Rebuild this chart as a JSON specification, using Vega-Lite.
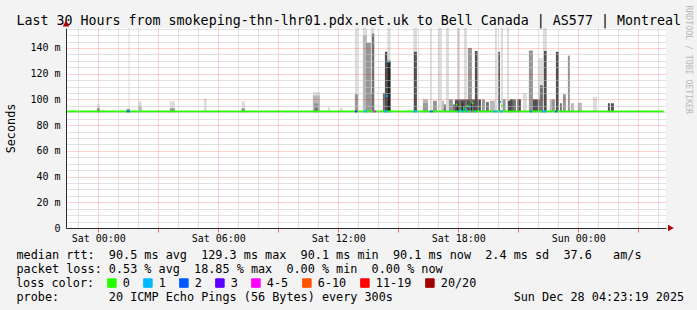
{
  "$schema": "https://vega.github.io/schema/vega-lite/v6.json",
  "width": 600,
  "height": 200,
  "autosize": {"type": "none"},
  "padding": {"left": 66, "top": 28, "right": 31, "bottom": 82},
  "background": "#f3f3f3",
  "view": {"fill": "#ffffff", "stroke": null},
  "config": {
    "font": "DejaVu Sans Mono",
    "axis": {"labelFont": "DejaVu Sans Mono", "titleFont": "DejaVu Sans Mono", "labelColor": "#000000", "titleColor": "#000000", "titleFontWeight": "normal"}
  },
  "datasets": {
    "smoke": [
      {"s":"2025-12-26T23:56:00Z","e":"2025-12-27T00:05:00Z","lo":90,"hi":96,"k":"a"},
      {"s":"2025-12-27T00:10:00Z","e":"2025-12-27T00:20:00Z","lo":90,"hi":92,"k":"a"},
      {"s":"2025-12-27T01:31:00Z","e":"2025-12-27T01:34:00Z","lo":90,"hi":158,"k":"a"},
      {"s":"2025-12-27T02:00:00Z","e":"2025-12-27T02:10:00Z","lo":90,"hi":98.5,"k":"a"},
      {"s":"2025-12-27T03:35:00Z","e":"2025-12-27T03:50:00Z","lo":90,"hi":98.5,"k":"a"},
      {"s":"2025-12-27T05:17:00Z","e":"2025-12-27T05:25:00Z","lo":90,"hi":100.5,"k":"a"},
      {"s":"2025-12-27T07:10:00Z","e":"2025-12-27T07:20:00Z","lo":90,"hi":98.5,"k":"a"},
      {"s":"2025-12-27T10:44:00Z","e":"2025-12-27T11:05:00Z","lo":90,"hi":105.7,"k":"a"},
      {"s":"2025-12-27T11:29:00Z","e":"2025-12-27T11:35:00Z","lo":90,"hi":94,"k":"a"},
      {"s":"2025-12-27T12:05:00Z","e":"2025-12-27T12:14:00Z","lo":90,"hi":93.5,"k":"a"},
      {"s":"2025-12-27T12:50:00Z","e":"2025-12-27T12:59:00Z","lo":90,"hi":158,"k":"a"},
      {"s":"2025-12-27T13:14:00Z","e":"2025-12-27T13:26:00Z","lo":90,"hi":158,"k":"a"},
      {"s":"2025-12-27T13:38:00Z","e":"2025-12-27T13:48:00Z","lo":90,"hi":158,"k":"a"},
      {"s":"2025-12-27T14:27:00Z","e":"2025-12-27T14:37:00Z","lo":90,"hi":158,"k":"a"},
      {"s":"2025-12-27T15:45:00Z","e":"2025-12-27T15:57:00Z","lo":90,"hi":158,"k":"a"},
      {"s":"2025-12-27T16:35:00Z","e":"2025-12-27T16:41:00Z","lo":90,"hi":158,"k":"a"},
      {"s":"2025-12-27T16:59:00Z","e":"2025-12-27T17:11:00Z","lo":90,"hi":158,"k":"a"},
      {"s":"2025-12-27T17:23:00Z","e":"2025-12-27T17:32:00Z","lo":90,"hi":158,"k":"a"},
      {"s":"2025-12-27T17:56:00Z","e":"2025-12-27T18:05:00Z","lo":90,"hi":158,"k":"a"},
      {"s":"2025-12-27T18:17:00Z","e":"2025-12-27T18:26:00Z","lo":90,"hi":158,"k":"a"},
      {"s":"2025-12-27T19:50:00Z","e":"2025-12-27T19:56:00Z","lo":90,"hi":158,"k":"a"},
      {"s":"2025-12-27T20:08:00Z","e":"2025-12-27T20:14:00Z","lo":90,"hi":158,"k":"a"},
      {"s":"2025-12-27T20:26:00Z","e":"2025-12-27T20:32:00Z","lo":90,"hi":158,"k":"a"},
      {"s":"2025-12-27T21:14:00Z","e":"2025-12-27T21:26:00Z","lo":90,"hi":105,"k":"a"},
      {"s":"2025-12-27T21:32:00Z","e":"2025-12-27T21:44:00Z","lo":90,"hi":111,"k":"a"},
      {"s":"2025-12-27T21:59:00Z","e":"2025-12-27T22:14:00Z","lo":90,"hi":132,"k":"a"},
      {"s":"2025-12-27T22:14:00Z","e":"2025-12-27T22:26:00Z","lo":90,"hi":158,"k":"a"},
      {"s":"2025-12-28T00:44:00Z","e":"2025-12-28T00:56:00Z","lo":90,"hi":102,"k":"a"},

      {"s":"2025-12-27T02:00:00Z","e":"2025-12-27T02:10:00Z","lo":90,"hi":95,"k":"b"},
      {"s":"2025-12-27T10:44:00Z","e":"2025-12-27T11:05:00Z","lo":90,"hi":103,"k":"b"},
      {"s":"2025-12-27T13:14:00Z","e":"2025-12-27T13:26:00Z","lo":90,"hi":150,"k":"b"},
      {"s":"2025-12-27T16:14:00Z","e":"2025-12-27T16:29:00Z","lo":90,"hi":100,"k":"b"},
      {"s":"2025-12-27T17:11:00Z","e":"2025-12-27T17:17:00Z","lo":90,"hi":99,"k":"b"},
      {"s":"2025-12-27T19:35:00Z","e":"2025-12-27T19:50:00Z","lo":90,"hi":99,"k":"b"},
      {"s":"2025-12-27T22:35:00Z","e":"2025-12-27T22:41:00Z","lo":90,"hi":100,"k":"b"},
      {"s":"2025-12-27T23:38:00Z","e":"2025-12-27T23:47:00Z","lo":90,"hi":97,"k":"b"},
      {"s":"2025-12-27T23:59:00Z","e":"2025-12-28T00:11:00Z","lo":90,"hi":97.4,"k":"b"},

      {"s":"2025-12-26T23:56:00Z","e":"2025-12-27T00:05:00Z","lo":90,"hi":93,"k":"c"},
      {"s":"2025-12-27T01:25:00Z","e":"2025-12-27T01:35:00Z","lo":90,"hi":92.6,"k":"c"},
      {"s":"2025-12-27T03:35:00Z","e":"2025-12-27T03:50:00Z","lo":90,"hi":93,"k":"c"},
      {"s":"2025-12-27T07:10:00Z","e":"2025-12-27T07:20:00Z","lo":90,"hi":93,"k":"c"},
      {"s":"2025-12-27T10:47:00Z","e":"2025-12-27T11:02:00Z","lo":90,"hi":97,"k":"c"},
      {"s":"2025-12-27T12:50:00Z","e":"2025-12-27T12:59:00Z","lo":90,"hi":104,"k":"c"},
      {"s":"2025-12-27T13:23:00Z","e":"2025-12-27T13:38:00Z","lo":90,"hi":144,"k":"c"},
      {"s":"2025-12-27T13:38:00Z","e":"2025-12-27T13:41:00Z","lo":90,"hi":105,"k":"c"},
      {"s":"2025-12-27T16:14:00Z","e":"2025-12-27T16:29:00Z","lo":90,"hi":97,"k":"c"},
      {"s":"2025-12-27T16:44:00Z","e":"2025-12-27T16:56:00Z","lo":90,"hi":99,"k":"c"},
      {"s":"2025-12-27T17:32:00Z","e":"2025-12-27T17:44:00Z","lo":90,"hi":100,"k":"c"},
      {"s":"2025-12-27T18:29:00Z","e":"2025-12-27T18:41:00Z","lo":90,"hi":140,"k":"c"},
      {"s":"2025-12-27T19:11:00Z","e":"2025-12-27T19:20:00Z","lo":90,"hi":100,"k":"c"},
      {"s":"2025-12-27T20:14:00Z","e":"2025-12-27T20:22:00Z","lo":90,"hi":100,"k":"c"},
      {"s":"2025-12-27T20:56:00Z","e":"2025-12-27T21:05:00Z","lo":90,"hi":100,"k":"c"},
      {"s":"2025-12-27T21:32:00Z","e":"2025-12-27T21:44:00Z","lo":90,"hi":138,"k":"c"},
      {"s":"2025-12-27T22:41:00Z","e":"2025-12-27T22:50:00Z","lo":90,"hi":100,"k":"c"},
      {"s":"2025-12-27T23:14:00Z","e":"2025-12-27T23:23:00Z","lo":90,"hi":104,"k":"c"},
      {"s":"2025-12-27T23:29:00Z","e":"2025-12-27T23:35:00Z","lo":90,"hi":134,"k":"c"},

      {"s":"2025-12-27T10:50:00Z","e":"2025-12-27T11:00:00Z","lo":90,"hi":93,"k":"d"},
      {"s":"2025-12-27T13:41:00Z","e":"2025-12-27T13:48:00Z","lo":90,"hi":151,"k":"d"},
      {"s":"2025-12-27T14:14:00Z","e":"2025-12-27T14:20:00Z","lo":90,"hi":105,"k":"d"},
      {"s":"2025-12-27T17:17:00Z","e":"2025-12-27T17:23:00Z","lo":90,"hi":96,"k":"d"},
      {"s":"2025-12-27T17:44:00Z","e":"2025-12-27T17:50:00Z","lo":90,"hi":96,"k":"d"},
      {"s":"2025-12-27T17:50:00Z","e":"2025-12-27T18:59:00Z","lo":90,"hi":100,"k":"d"},
      {"s":"2025-12-27T19:23:00Z","e":"2025-12-27T19:32:00Z","lo":90,"hi":98,"k":"d"},
      {"s":"2025-12-27T20:44:00Z","e":"2025-12-27T20:53:00Z","lo":90,"hi":100,"k":"d"},
      {"s":"2025-12-27T22:00:00Z","e":"2025-12-27T22:05:00Z","lo":90,"hi":100,"k":"d"},
      {"s":"2025-12-27T22:05:00Z","e":"2025-12-27T22:14:00Z","lo":90,"hi":111,"k":"d"},
      {"s":"2025-12-27T23:05:00Z","e":"2025-12-27T23:11:00Z","lo":90,"hi":97,"k":"d"},

      {"s":"2025-12-27T14:20:00Z","e":"2025-12-27T14:27:00Z","lo":90,"hi":137,"k":"e"},
      {"s":"2025-12-27T15:47:00Z","e":"2025-12-27T15:56:00Z","lo":90,"hi":137,"k":"e"},
      {"s":"2025-12-27T17:50:00Z","e":"2025-12-27T18:02:00Z","lo":90,"hi":99,"k":"e"},
      {"s":"2025-12-27T18:08:00Z","e":"2025-12-27T18:20:00Z","lo":90,"hi":99,"k":"e"},
      {"s":"2025-12-27T18:26:00Z","e":"2025-12-27T18:35:00Z","lo":90,"hi":99,"k":"e"},
      {"s":"2025-12-27T18:44:00Z","e":"2025-12-27T18:55:00Z","lo":90,"hi":99,"k":"e"},
      {"s":"2025-12-27T18:50:00Z","e":"2025-12-27T18:58:00Z","lo":90,"hi":137.6,"k":"e"},
      {"s":"2025-12-27T18:59:00Z","e":"2025-12-27T19:08:00Z","lo":90,"hi":100,"k":"e"},
      {"s":"2025-12-27T19:59:00Z","e":"2025-12-27T20:05:00Z","lo":90,"hi":137,"k":"e"},
      {"s":"2025-12-27T20:29:00Z","e":"2025-12-27T20:38:00Z","lo":90,"hi":99,"k":"e"},
      {"s":"2025-12-27T20:35:00Z","e":"2025-12-27T20:44:00Z","lo":90,"hi":100,"k":"e"},
      {"s":"2025-12-27T21:02:00Z","e":"2025-12-27T21:08:00Z","lo":90,"hi":100,"k":"e"},
      {"s":"2025-12-27T21:44:00Z","e":"2025-12-27T21:59:00Z","lo":90,"hi":100,"k":"e"},
      {"s":"2025-12-27T22:17:00Z","e":"2025-12-27T22:25:00Z","lo":90,"hi":137.6,"k":"e"},
      {"s":"2025-12-27T22:53:00Z","e":"2025-12-27T23:02:00Z","lo":90,"hi":137,"k":"e"},
      {"s":"2025-12-28T01:29:00Z","e":"2025-12-28T01:35:00Z","lo":90,"hi":97,"k":"e"},
      {"s":"2025-12-28T01:38:00Z","e":"2025-12-28T01:47:00Z","lo":90,"hi":97,"k":"e"},

      {"s":"2025-12-27T14:27:00Z","e":"2025-12-27T14:37:00Z","lo":90,"hi":130,"k":"f"},
      {"s":"2025-12-27T17:56:00Z","e":"2025-12-27T18:00:00Z","lo":90,"hi":97,"k":"f"},
      {"s":"2025-12-27T18:11:00Z","e":"2025-12-27T18:14:00Z","lo":90,"hi":97,"k":"f"},
      {"s":"2025-12-27T18:38:00Z","e":"2025-12-27T18:41:00Z","lo":90,"hi":97,"k":"f"}
    ],
    "median": [
      {"s":"2025-12-26T22:23:19Z","e":"2025-12-28T04:17:00Z","med":90.5,"loss":"0"},
      {"s":"2025-12-27T01:25:00Z","e":"2025-12-27T01:35:00Z","med":90.5,"loss":"2"},
      {"s":"2025-12-27T12:50:00Z","e":"2025-12-27T12:57:00Z","med":90.5,"loss":"3"},
      {"s":"2025-12-27T13:17:00Z","e":"2025-12-27T13:26:00Z","med":90.5,"loss":"1"},
      {"s":"2025-12-27T13:45:00Z","e":"2025-12-27T13:53:00Z","med":90.5,"loss":"4-5"},
      {"s":"2025-12-27T14:17:00Z","e":"2025-12-27T14:27:00Z","med":90.5,"loss":"1"},
      {"s":"2025-12-27T14:24:00Z","e":"2025-12-27T14:29:00Z","med":102.6,"loss":"1"},
      {"s":"2025-12-27T14:29:00Z","e":"2025-12-27T14:34:00Z","med":129.3,"loss":"1"},
      {"s":"2025-12-27T15:45:00Z","e":"2025-12-27T15:57:00Z","med":90.5,"loss":"1"},
      {"s":"2025-12-27T16:35:00Z","e":"2025-12-27T16:44:00Z","med":90.5,"loss":"2"},
      {"s":"2025-12-27T17:58:00Z","e":"2025-12-27T18:04:00Z","med":90.5,"loss":"1"},
      {"s":"2025-12-27T18:10:00Z","e":"2025-12-27T18:16:00Z","med":90.5,"loss":"1"},
      {"s":"2025-12-27T18:22:00Z","e":"2025-12-27T18:28:00Z","med":90.5,"loss":"1"},
      {"s":"2025-12-27T18:38:00Z","e":"2025-12-27T18:43:00Z","med":90.5,"loss":"4-5"},
      {"s":"2025-12-27T18:47:00Z","e":"2025-12-27T18:52:00Z","med":90.5,"loss":"1"},
      {"s":"2025-12-27T17:53:00Z","e":"2025-12-27T17:58:00Z","med":96,"loss":"0"},
      {"s":"2025-12-27T18:04:00Z","e":"2025-12-27T18:09:00Z","med":92,"loss":"1"},
      {"s":"2025-12-27T18:14:00Z","e":"2025-12-27T18:19:00Z","med":93,"loss":"0"},
      {"s":"2025-12-27T18:20:00Z","e":"2025-12-27T18:25:00Z","med":92.5,"loss":"1"},
      {"s":"2025-12-27T18:26:00Z","e":"2025-12-27T18:31:00Z","med":95,"loss":"0"},
      {"s":"2025-12-27T18:33:00Z","e":"2025-12-27T18:38:00Z","med":94,"loss":"1"},
      {"s":"2025-12-27T18:41:00Z","e":"2025-12-27T18:46:00Z","med":97,"loss":"0"},
      {"s":"2025-12-27T19:45:00Z","e":"2025-12-27T19:58:00Z","med":90.5,"loss":"1"},
      {"s":"2025-12-27T20:05:00Z","e":"2025-12-27T20:14:00Z","med":90.5,"loss":"1"},
      {"s":"2025-12-27T20:05:00Z","e":"2025-12-27T20:09:00Z","med":98,"loss":"1"},
      {"s":"2025-12-27T20:10:00Z","e":"2025-12-27T20:14:00Z","med":95,"loss":"0"},
      {"s":"2025-12-27T21:35:00Z","e":"2025-12-27T21:40:00Z","med":90.5,"loss":"2"},
      {"s":"2025-12-27T22:10:00Z","e":"2025-12-27T22:25:00Z","med":90.5,"loss":"1"},
      {"s":"2025-12-27T22:50:00Z","e":"2025-12-27T22:57:00Z","med":90.5,"loss":"2"}
    ]
  },
  "layer": [
    {
      "data": {"name": "smoke"},
      "mark": {"type": "rect", "clip": true},
      "encoding": {
        "x": {"field": "s", "type": "temporal",
              "scale": {"type": "utc", "domain": [{"year": 2025, "month": 12, "date": 26, "hours": 22, "minutes": 23, "seconds": 19, "utc": true}, {"year": 2025, "month": 12, "date": 28, "hours": 4, "minutes": 23, "seconds": 19, "utc": true}]},
              "axis": {"orient": "bottom", "grid": true, "gridColor": "#c4c4c4", "gridDash": [1, 1],
                       "values": [
                         {"year": 2025, "month": 12, "date": 26, "hours": 23, "utc": true},
                         {"year": 2025, "month": 12, "date": 27, "hours": 1, "utc": true},
                         {"year": 2025, "month": 12, "date": 27, "hours": 2, "utc": true},
                         {"year": 2025, "month": 12, "date": 27, "hours": 4, "utc": true},
                         {"year": 2025, "month": 12, "date": 27, "hours": 5, "utc": true},
                         {"year": 2025, "month": 12, "date": 27, "hours": 7, "utc": true},
                         {"year": 2025, "month": 12, "date": 27, "hours": 8, "utc": true},
                         {"year": 2025, "month": 12, "date": 27, "hours": 10, "utc": true},
                         {"year": 2025, "month": 12, "date": 27, "hours": 11, "utc": true},
                         {"year": 2025, "month": 12, "date": 27, "hours": 13, "utc": true},
                         {"year": 2025, "month": 12, "date": 27, "hours": 14, "utc": true},
                         {"year": 2025, "month": 12, "date": 27, "hours": 16, "utc": true},
                         {"year": 2025, "month": 12, "date": 27, "hours": 17, "utc": true},
                         {"year": 2025, "month": 12, "date": 27, "hours": 19, "utc": true},
                         {"year": 2025, "month": 12, "date": 27, "hours": 20, "utc": true},
                         {"year": 2025, "month": 12, "date": 27, "hours": 22, "utc": true},
                         {"year": 2025, "month": 12, "date": 27, "hours": 23, "utc": true},
                         {"year": 2025, "month": 12, "date": 28, "hours": 1, "utc": true},
                         {"year": 2025, "month": 12, "date": 28, "hours": 2, "utc": true},
                         {"year": 2025, "month": 12, "date": 28, "hours": 4, "utc": true}
                       ],
                       "labels": false, "ticks": false, "domain": false, "title": null, "zindex": 1}},
        "x2": {"field": "e"},
        "y": {"field": "lo", "type": "quantitative",
              "scale": {"domain": [0, 155.5], "nice": false, "zero": true},
              "axis": {"orient": "left", "grid": true, "gridColor": "#c4c4c4", "gridDash": [1, 1], "values": [5,10,15,25,30,35,45,50,55,65,70,75,85,90,95,105,110,115,125,130,135,145,150,155], "labels": false, "ticks": false, "domain": false, "title": null, "zindex": 1}},
        "y2": {"field": "hi"},
        "fill": {"field": "k", "type": "nominal",
                 "scale": {"domain": ["a", "b", "c", "d", "e", "f"], "range": ["#dcdcdc", "#b8b8b8", "#969696", "#727272", "#505050", "#242424"]},
                 "legend": null}
      }
    },
    {
      "data": {"name": "median"},
      "mark": {"type": "rule", "strokeWidth": 2},
      "encoding": {
        "x": {"field": "s", "type": "temporal",
              "scale": {"type": "utc", "domain": [{"year": 2025, "month": 12, "date": 26, "hours": 22, "minutes": 23, "seconds": 19, "utc": true}, {"year": 2025, "month": 12, "date": 28, "hours": 4, "minutes": 23, "seconds": 19, "utc": true}]},
              "axis": {"orient": "bottom", "grid": true, "gridColor": "#ff0000", "gridOpacity": 0.36, "gridDash": [1, 1],
                       "values": [
                         {"year": 2025, "month": 12, "date": 27, "hours": 0, "utc": true},
                         {"year": 2025, "month": 12, "date": 27, "hours": 3, "utc": true},
                         {"year": 2025, "month": 12, "date": 27, "hours": 6, "utc": true},
                         {"year": 2025, "month": 12, "date": 27, "hours": 9, "utc": true},
                         {"year": 2025, "month": 12, "date": 27, "hours": 12, "utc": true},
                         {"year": 2025, "month": 12, "date": 27, "hours": 15, "utc": true},
                         {"year": 2025, "month": 12, "date": 27, "hours": 18, "utc": true},
                         {"year": 2025, "month": 12, "date": 27, "hours": 21, "utc": true},
                         {"year": 2025, "month": 12, "date": 28, "hours": 0, "utc": true},
                         {"year": 2025, "month": 12, "date": 28, "hours": 3, "utc": true}
                       ],
                       "ticks": true, "tickColor": "#ff0000", "tickOpacity": 0.55, "tickSize": 4,
                       "labelExpr": "utchours(datum.value) % 6 == 0 ? utcFormat(datum.value, '%a %H:%M') : ''",
                       "labelFontSize": 10, "labelPadding": 1, "labelOverlap": false, "labelFlush": false,
                       "domain": true, "domainColor": "#2b2b2b",
                       "title": [
                         "median rtt:\u00a0\u00a090.5 ms avg\u00a0\u00a0129.3 ms max\u00a0\u00a090.1 ms min\u00a0\u00a090.1 ms now\u00a0\u00a02.4 ms sd\u00a0\u00a037.6\u00a0\u00a0\u00a0am/s",
                         "packet loss: 0.53 % avg\u00a0\u00a018.85 % max\u00a0\u00a00.00 % min\u00a0\u00a00.00 % now"
                       ],
                       "titleFontSize": 11.8, "titleAlign": "left", "titleAnchor": "start", "titleBaseline": "alphabetic",
                       "titleLineHeight": 14, "titleX": -50, "titleY": 30.3, "titleLimit": 1000, "zindex": 1}},
        "x2": {"field": "e"},
        "y": {"field": "med", "type": "quantitative",
              "scale": {"domain": [0, 155.5], "nice": false, "zero": true},
              "axis": {"orient": "left", "grid": true, "gridColor": "#ff0000", "gridOpacity": 0.36, "gridDash": [1, 1],
                       "values": [0, 20, 40, 60, 80, 100, 120, 140],
                       "labelExpr": "datum.value == 0 ? '0\u00a0\u00a0' : datum.value + '\u00a0m'",
                       "labelFontSize": 10, "labelPadding": 6, "labelOverlap": false, "ticks": false,
                       "domain": true, "domainColor": "#2b2b2b",
                       "title": "Seconds", "titleFontSize": 11.8, "titleX": -56, "titleBaseline": "middle", "zindex": 1}},
        "color": {"field": "loss", "type": "nominal",
                  "scale": {"domain": ["0", "1", "2", "3", "4-5", "6-10", "11-19", "20/20"],
                            "range": ["#26ff00", "#00b8ff", "#0059ff", "#5e00ff", "#ff00ff", "#ff5500", "#ff0000", "#a10000"]},
                  "legend": {"orient": "none", "legendX": -50, "legendY": 249, "direction": "horizontal", "columns": 8,
                             "title": "loss color:", "titleOrient": "left", "titleFont": "DejaVu Sans Mono", "titleFontSize": 11.8,
                             "titleFontWeight": "normal", "titleColor": "#000000", "titlePadding": 11,
                             "labelFont": "DejaVu Sans Mono", "labelFontSize": 11.8, "labelColor": "#000000", "labelOffset": 5,
                             "columnPadding": 11, "padding": 0, "symbolType": "square", "symbolSize": 72, "symbolStrokeWidth": 1,
                             "encode": {"symbols": {"update": {"fill": {"scale": "color", "field": "value"}, "stroke": {"value": "#303030"}, "strokeWidth": {"value": 1}, "opacity": {"value": 1}}}}}}
      }
    },
    {
      "data": {"values": [{}]},
      "mark": {"type": "point", "shape": "triangle-right", "filled": true, "size": 45, "color": "#b00000", "opacity": 1},
      "encoding": {
        "x": {"datum": {"year": 2025, "month": 12, "date": 28, "hours": 4, "minutes": 38, "seconds": 0, "utc": true}, "type": "temporal",
              "scale": {"type": "utc", "domain": [{"year": 2025, "month": 12, "date": 26, "hours": 22, "minutes": 23, "seconds": 19, "utc": true}, {"year": 2025, "month": 12, "date": 28, "hours": 4, "minutes": 23, "seconds": 19, "utc": true}]},
              "axis": {"orient": "top", "labels": false, "ticks": false, "domain": false, "grid": false,
                       "title": "Last 30 Hours from smokeping-thn-lhr01.pdx.net.uk to Bell Canada | AS577 | Montreal",
                       "titleFontSize": 13.3, "titleAlign": "left", "titleAnchor": "start", "titleBaseline": "alphabetic",
                       "titleX": -50, "titleY": -4, "titleLimit": 1000}},
        "y": {"datum": 0, "type": "quantitative", "scale": {"domain": [0, 155.5], "nice": false, "zero": true},
              "axis": {"orient": "right", "title": "RRDTOOL / TOBI OETIKER", "labels": false, "ticks": false, "domain": false, "grid": false,
                       "titleAngle": 90, "titleX": 21, "titleY": -23, "titleAlign": "left", "titleBaseline": "middle",
                       "titleFontSize": 8.2, "titleColor": "#b8b8b8"}}
      }
    },
    {
      "data": {"values": [{}]},
      "mark": {"type": "point", "shape": "triangle-up", "filled": true, "size": 45, "color": "#b00000", "opacity": 1},
      "encoding": {
        "x": {"datum": {"year": 2025, "month": 12, "date": 26, "hours": 22, "minutes": 23, "seconds": 19, "utc": true}, "type": "temporal",
              "scale": {"type": "utc", "domain": [{"year": 2025, "month": 12, "date": 26, "hours": 22, "minutes": 23, "seconds": 19, "utc": true}, {"year": 2025, "month": 12, "date": 28, "hours": 4, "minutes": 23, "seconds": 19, "utc": true}]},
              "axis": {"orient": "bottom", "labels": false, "ticks": false, "domain": false, "grid": false,
                       "title": "probe:\u00a0\u00a0\u00a0\u00a0\u00a0\u00a0\u00a020 ICMP Echo Pings (56 Bytes) every 300s\u00a0\u00a0\u00a0\u00a0\u00a0\u00a0\u00a0\u00a0\u00a0\u00a0\u00a0\u00a0\u00a0\u00a0\u00a0\u00a0\u00a0Sun Dec 28 04:23:19 2025",
                       "titleFontSize": 11.8, "titleAlign": "left", "titleAnchor": "start", "titleBaseline": "alphabetic",
                       "titleX": -50, "titleY": 72.3, "titleLimit": 1000}},
        "y": {"datum": 159, "type": "quantitative", "scale": {"domain": [0, 155.5], "nice": false, "zero": true}, "axis": null}
      }
    }
  ],
  "resolve": {"axis": {"x": "independent", "y": "independent"}}
}
